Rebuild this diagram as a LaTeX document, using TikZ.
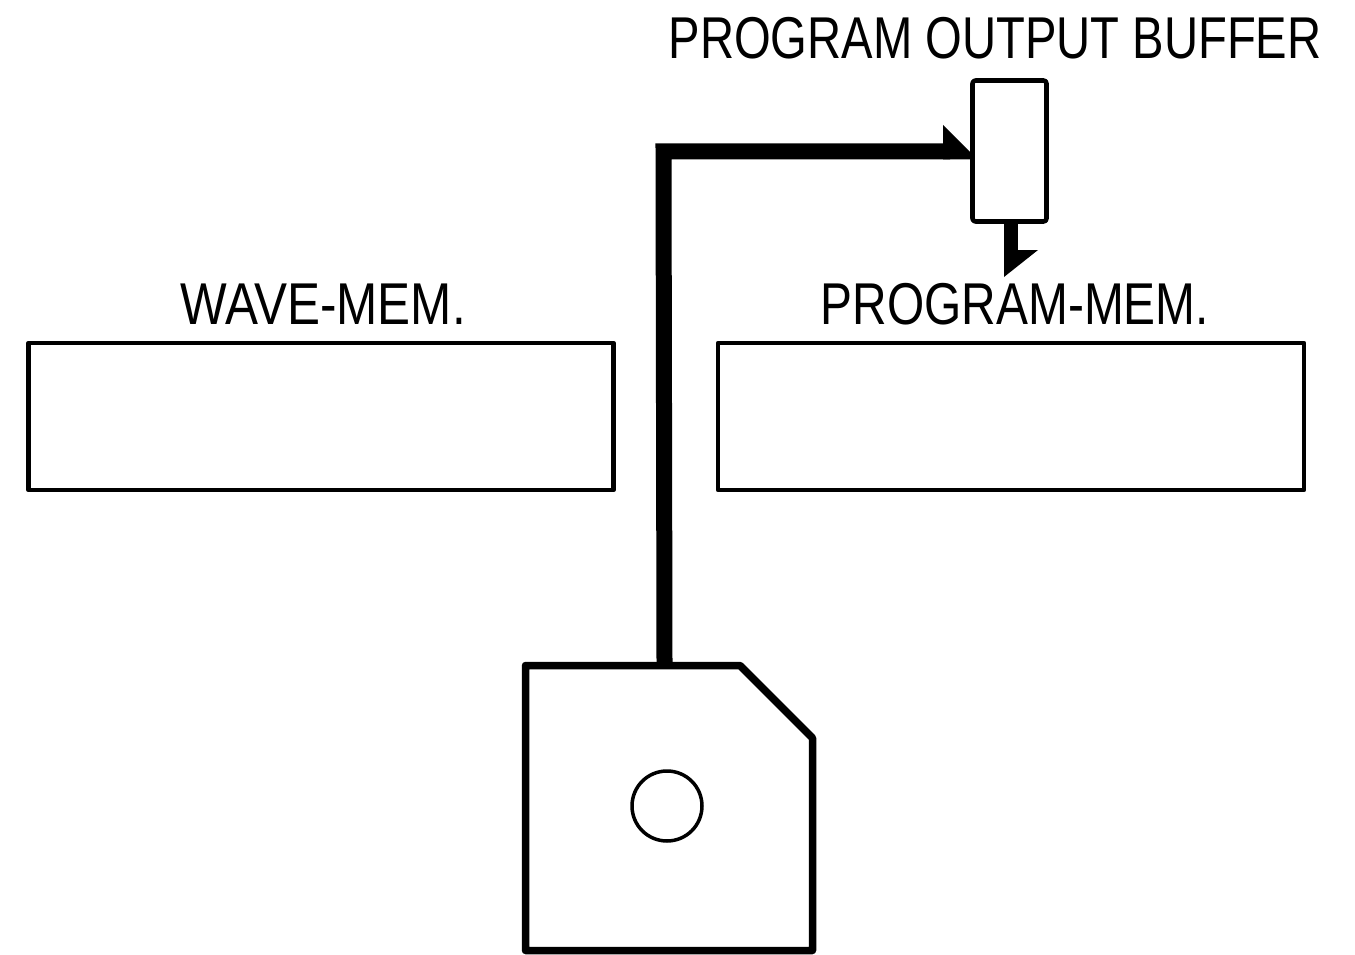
\documentclass[tikz,border=0pt]{standalone}
\usepackage{fontspec}
\setmainfont{Liberation Sans}
\begin{document}
\begin{tikzpicture}[x=1pt,y=-1pt,
  box/.style={draw=black,line width=4.6pt,fill=white,inner sep=0pt,rectangle,line join=round},
  lbl/.style={inner sep=0pt,font=\fontsize{59}{59}\selectfont}]
\useasboundingbox (0,0) rectangle (1355,955);
\fill[white] (0,0) rectangle (1355,955);
\coordinate (tip) at (970,152);
\coordinate (drop) at (1004,277);
\node[box,minimum width=585pt,minimum height=147pt] (wave) at (321,416.5) {};
\node[box,minimum width=586pt,minimum height=147pt] (prog) at (1011,416.5) {};
\node[box,rounded corners=3pt,minimum width=74pt,minimum height=141pt] (buf) at (1009.5,151) {};
\draw[line width=7.5pt,line join=round,fill=white] (525.5,665.5) coordinate (d1) -- (740,665.5) -- (812.5,738) -- (812.5,950.5) -- (525.5,950.5) -- cycle;
\coordinate (dtop) at (664.5,662);
\node[draw,line width=3.5pt,circle,minimum width=70pt,minimum height=70pt,inner sep=0pt] (hole) at (667,806) {};
\draw[line width=16pt,line join=miter] (dtop) -- (663.5,151.5) -- (950,151.5);
\fill (tip) -- (943,125) -- (943,159.5) -- (970,159.5) -- cycle;
\draw[line width=14pt] (1011,222) -- (1011,255);
\fill (drop) -- (1038,250) -- (1004,250) -- cycle;
\node[lbl,xscale=0.80] (t1) at (995,38) {PROGRAM OUTPUT BUFFER};
\node[lbl,xscale=0.838] (t2) at (323,304) {WAVE-MEM.};
\node[lbl,xscale=0.811] (t3) at (1015,304) {PROGRAM-MEM.};
\end{tikzpicture}
\end{document}
